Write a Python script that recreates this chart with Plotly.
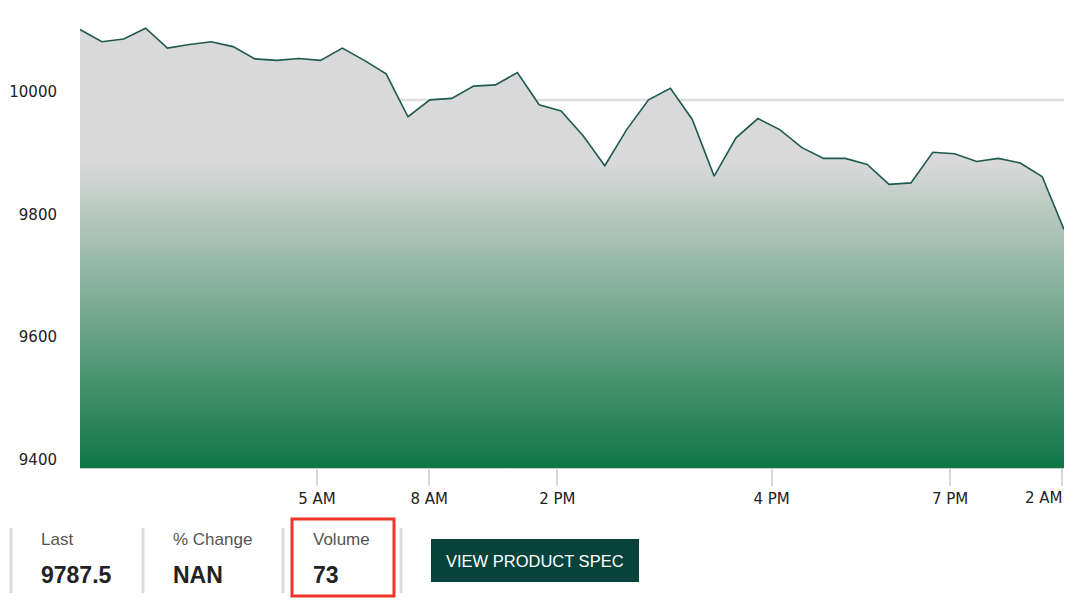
import plotly.graph_objects as go

# ---------------- data ----------------
prices = [10102.5, 10082.5, 10087, 10104.5, 10072, 10078, 10082.5, 10074.5, 10054.5, 10052,
          10055, 10052, 10072, 10052, 10030, 9960, 9987.5, 9990, 10010, 10012,
          10032, 9979.5, 9969.5, 9929.5, 9880, 9939, 9987.5, 10006.5, 9955.5, 9863,
          9925.5, 9957, 9939, 9910, 9892, 9892, 9882, 9849.5, 9852, 9902,
          9899.5, 9887, 9892, 9884.5, 9862.5, 9776]
points = list(range(len(prices)))
ref_price = 9987.5
y_ticks = [9400, 9600, 9800, 10000]
x_tick_pos = [10.84, 15.97, 21.83, 31.63, 39.79, 44.89]
x_tick_labels = ["5 AM", "8 AM", "2 PM", "4 PM", "7 PM", "2 AM"]
stat_labels = ["Last", "% Change", "Volume"]
stat_values = ["9787.5", "NAN", "73"]
button_text = "VIEW PRODUCT SPEC"

# ---------------- layout helpers ----------------
W, H = 1080, 603
L, R, T, B = 80, 16, 0, 135
PW, PH = W - L - R, H - T - B
y_min, y_max = 9386.5, 10150.6


def px(x):
    return (x - L) / PW


def py(y):
    return (H - B - y) / PH


GREEN = "#0e7646"
GRAY = "#d9d9d9"
gray_frac = (9885 - y_min) / (y_max - y_min)

fig = go.Figure()
fig.add_trace(go.Scatter(
    x=points, y=prices, mode="lines",
    line=dict(color="#1e5a4e", width=1.6),
    fill="tozeroy",
    fillgradient=dict(type="vertical", start=y_min, stop=y_max,
                      colorscale=[[0, GREEN], [gray_frac, GRAY], [1, GRAY]]),
    hoverinfo="skip", showlegend=False,
))

shapes = [
    dict(type="line", xref="x", yref="y", x0=points[0], x1=points[-1],
         y0=ref_price, y1=ref_price, line=dict(color="#dddddd", width=2.5), layer="below"),
]
# stat panel separators
for sx in [11, 143, 283, 401]:
    shapes.append(dict(type="line", xref="paper", yref="paper", x0=px(sx), x1=px(sx),
                       y0=py(528), y1=py(593), line=dict(color="#dcdcdc", width=3)))
# red highlight box
shapes.append(dict(type="rect", xref="paper", yref="paper", x0=px(292), x1=px(394),
                   y0=py(519), y1=py(596), line=dict(color="#f0342a", width=3)))
# button
shapes.append(dict(type="rect", xref="paper", yref="paper", x0=px(431), x1=px(639),
                   y0=py(539), y1=py(582), fillcolor="#07433a", line=dict(width=0)))

annotations = []
stat_x = [41, 173, 313]
for sx, lab, val in zip(stat_x, stat_labels, stat_values):
    annotations.append(dict(xref="paper", yref="paper", x=px(sx - 2), y=py(539), text=lab,
                            showarrow=False, xanchor="left", yanchor="middle",
                            font=dict(family="Liberation Sans", size=17, color="#555555")))
    annotations.append(dict(xref="paper", yref="paper", x=px(sx - 2), y=py(575), text="<b>" + val + "</b>",
                            showarrow=False, xanchor="left", yanchor="middle",
                            font=dict(family="Liberation Sans", size=23, color="#222222")))
annotations.append(dict(xref="paper", yref="paper", x=px(535), y=py(560.5), text=button_text,
                        showarrow=False, xanchor="center", yanchor="middle",
                        font=dict(family="Liberation Sans", size=16.5, color="white")))
# last tick label kept inside the chart edge
annotations.append(dict(xref="x", yref="paper", x=x_tick_pos[-1], y=py(498), text=x_tick_labels[-1],
                        showarrow=False, xanchor="right", yanchor="middle", xshift=3,
                        font=dict(family="DejaVu Sans", size=15, color="#222222")))

tick_text = x_tick_labels[:-1] + [""]

fig.update_layout(
    width=W, height=H,
    margin=dict(l=L, r=R, t=T, b=B),
    paper_bgcolor="white", plot_bgcolor="white",
    shapes=shapes, annotations=annotations,
    xaxis=dict(range=[points[0], points[-1]], tickvals=x_tick_pos, ticktext=tick_text,
               ticks="outside", ticklen=17, tickwidth=2, tickcolor="#d8d8d8",
               showline=True, linecolor="#c5d3d8", linewidth=1,
               showgrid=False, zeroline=False,
               tickfont=dict(family="DejaVu Sans", size=15, color="#222222")),
    yaxis=dict(range=[y_min, y_max], tickvals=y_ticks, tickformat="d",
               ticks="outside", ticklen=19, tickcolor="rgba(0,0,0,0)",
               showline=False, showgrid=False, zeroline=False,
               tickfont=dict(family="DejaVu Sans", size=15, color="#222222")),
    hovermode=False,
)

fig.write_html("out.html", config={"displayModeBar": False},
               post_script="document.body.style.margin='0';document.body.style.overflow='hidden';")
